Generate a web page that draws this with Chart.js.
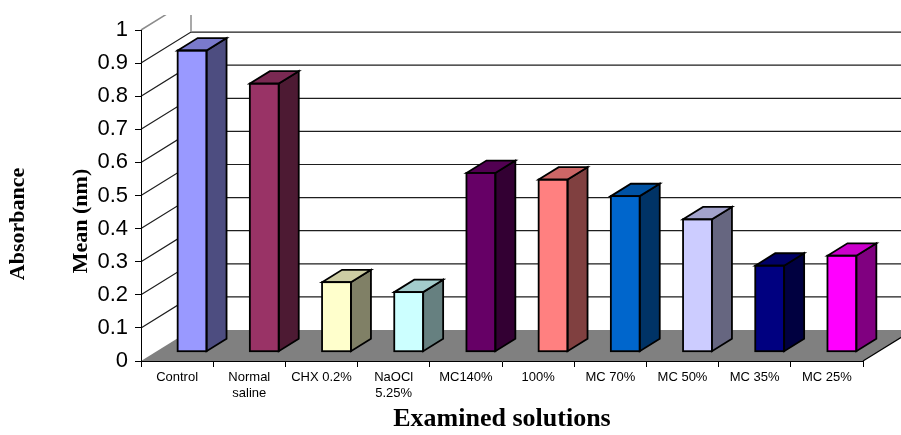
<!DOCTYPE html>
<html>
<head>
<meta charset="utf-8">
<style>
  html, body { margin: 0; padding: 0; background: #ffffff; }
  canvas { display: block; }
</style>
<script src="https://cdn.jsdelivr.net/npm/chart.js@4.4.1/dist/chart.umd.min.js"></script>
</head>
<body>
<canvas id="chart" width="901" height="435"></canvas>
<script>
// Categories (solutions) and their mean absorbance readings
const categories = [
  "Control", ["Normal", "saline"], "CHX 0.2%", ["NaOCl", "5.25%"], "MC140%",
  "100%", "MC 70%", "MC 50%", "MC 35%", "MC 25%"
];
const meanAbsorbance = [0.91, 0.81, 0.21, 0.18, 0.54, 0.52, 0.47, 0.40, 0.26, 0.29];

// Value axis range
const yMin = 0;
const yMax = 1;
const yStep = 0.1;

// Axis titles
const xTitle = "Examined solutions";
const yTitleOuter = "Absorbance";
const yTitleInner = "Mean (nm)";

// Front-face colours of each column
const frontColors = [
  "#9999FF", "#993366", "#FFFFCC", "#CCFFFF", "#660066",
  "#FF8080", "#0066CC", "#CCCCFF", "#000080", "#FF00FF"
];

// Oblique depth of the plot box (px) and where the columns sit inside it
const DEPTH = { x: 50, y: -31 };
const COL_FRONT = 0.3;   // front face of columns, as a fraction of depth
const COL_DEPTH = 0.4;   // thickness of columns, as a fraction of depth

function shade(hex, f) {
  const n = parseInt(hex.slice(1), 16);
  const r = Math.round(((n >> 16) & 255) * f);
  const g = Math.round(((n >> 8) & 255) * f);
  const b = Math.round((n & 255) * f);
  return `rgb(${r},${g},${b})`;
}

const serifFamily = "'Liberation Serif', 'Times New Roman', serif";
const serifBold = "bold 22px " + serifFamily;
const sans = "'Liberation Sans', Arial, sans-serif";

// Walls, floor and the extra faces of the columns
const box3d = {
  id: "box3d",
  beforeDraw(chart) {
    const { ctx, chartArea: a, scales: { y } } = chart;
    const dx = DEPTH.x, dy = DEPTH.y;
    ctx.save();
    ctx.fillStyle = "#ffffff";
    ctx.fillRect(0, 0, chart.width, chart.height);
    ctx.beginPath();
    ctx.rect(0, 15, chart.width, chart.height - 15);
    ctx.clip();

    const y0 = y.getPixelForValue(yMin);
    // floor
    ctx.fillStyle = "#808080";
    ctx.beginPath();
    ctx.moveTo(a.left, y0);
    ctx.lineTo(a.right, y0);
    ctx.lineTo(a.right + dx, y0 + dy);
    ctx.lineTo(a.left + dx, y0 + dy);
    ctx.closePath();
    ctx.fill();
    ctx.strokeStyle = "#000";
    ctx.lineWidth = 1.2;
    ctx.beginPath();
    ctx.moveTo(a.right, y0);
    ctx.lineTo(a.right + dx, y0 + dy);
    ctx.stroke();

    // gridlines on side wall and back wall
    const steps = Math.round((yMax - yMin) / yStep);
    for (let k = 1; k <= steps; k++) {
      const v = yMin + k * yStep;
      const py = y.getPixelForValue(v);
      ctx.strokeStyle = k === steps ? "#8c8c8c" : "#1e1e1e";
      ctx.lineWidth = k === steps ? 1.5 : 1.2;
      ctx.beginPath();
      ctx.moveTo(a.left, py);
      ctx.lineTo(a.left + dx, py + dy);
      ctx.lineTo(chart.width + 20, py + dy);
      ctx.stroke();
    }
    // back wall corner edge above the highest visible gridline
    const yTop = y.getPixelForValue(yMax) + dy;
    const yBelow = y.getPixelForValue(yMax - yStep) + dy;
    ctx.strokeStyle = "#8c8c8c";
    ctx.lineWidth = 1.5;
    ctx.beginPath();
    ctx.moveTo(a.left + dx, yTop);
    ctx.lineTo(a.left + dx, yBelow);
    ctx.stroke();
    ctx.restore();
  },
  beforeDatasetsDraw(chart) {
    const { ctx } = chart;
    ctx.save();
    ctx.translate(DEPTH.x * COL_FRONT, DEPTH.y * COL_FRONT);
  },
  afterDatasetsDraw(chart) {
    const { ctx } = chart;
    const meta = chart.getDatasetMeta(0);
    const ddx = DEPTH.x * COL_DEPTH, ddy = DEPTH.y * COL_DEPTH;
    ctx.lineWidth = 1.8;
    ctx.strokeStyle = "#000";
    ctx.lineJoin = "miter";
    meta.data.forEach((el, i) => {
      const { x, y, base, width } = el.getProps(["x", "y", "base", "width"], true);
      const l = x - width / 2, r = x + width / 2;
      const c = frontColors[i];
      // right side face
      ctx.fillStyle = shade(c, 0.5);
      ctx.beginPath();
      ctx.moveTo(r, y);
      ctx.lineTo(r + ddx, y + ddy);
      ctx.lineTo(r + ddx, base + ddy);
      ctx.lineTo(r, base);
      ctx.closePath();
      ctx.fill();
      ctx.stroke();
      // top face
      ctx.fillStyle = shade(c, 0.8);
      ctx.beginPath();
      ctx.moveTo(l, y);
      ctx.lineTo(l + ddx, y + ddy);
      ctx.lineTo(r + ddx, y + ddy);
      ctx.lineTo(r, y);
      ctx.closePath();
      ctx.fill();
      ctx.stroke();
      // front face outline
      ctx.strokeRect(l, y, width, base - y);
    });
    ctx.restore();
  },
  afterDraw(chart) {
    const { ctx } = chart;
    ctx.save();
    ctx.fillStyle = "#000";
    ctx.font = serifBold;
    ctx.textAlign = "center";
    ctx.textBaseline = "middle";
    ctx.translate(18, 224);
    ctx.rotate(-Math.PI / 2);
    ctx.fillText(yTitleOuter, 0, 0);
    ctx.restore();
    ctx.save();
    ctx.fillStyle = "#000";
    ctx.font = serifBold;
    ctx.textAlign = "center";
    ctx.textBaseline = "middle";
    ctx.translate(81, 221);
    ctx.rotate(-Math.PI / 2);
    ctx.fillText(yTitleInner, 0, 0);
    ctx.restore();
  }
};

new Chart(document.getElementById("chart"), {
  type: "bar",
  data: {
    labels: categories,
    datasets: [{
      data: meanAbsorbance,
      backgroundColor: frontColors,
      borderColor: "#000",
      borderWidth: 0,
      borderSkipped: false,
      categoryPercentage: 1,
      barPercentage: 0.4,
      clip: false
    }]
  },
  options: {
    responsive: false,
    animation: false,
    events: [],
    devicePixelRatio: 1,
    layout: { padding: { top: 30, right: 38, left: 0, bottom: 0 } },
    plugins: { legend: { display: false }, tooltip: { enabled: false } },
    scales: {
      x: {
        grid: { offset: true, drawOnChartArea: false, drawTicks: true, tickLength: 6, color: "#000" },
        border: { display: true, color: "#000", width: 1 },
        ticks: { color: "#000", font: { family: sans, size: 13 }, padding: 3, maxRotation: 0, autoSkip: false },
        title: {
          display: true, text: xTitle, color: "#000",
          font: { family: serifFamily, size: 26, weight: "bold", lineHeight: 1.2 },
          padding: { top: 0, bottom: 0 }
        },
        afterFit(scale) { scale.height = 74; }
      },
      y: {
        min: yMin, max: yMax,
        grid: { drawOnChartArea: false, drawTicks: true, tickLength: 6, color: "#000" },
        border: { display: true, color: "#000", width: 1 },
        ticks: {
          stepSize: yStep, color: "#000", padding: 7,
          font: { family: sans, size: 22 },
          callback: v => String(+(+v).toFixed(1))
        },
        afterFit(scale) { scale.width = 141; }
      }
    }
  },
  plugins: [box3d]
});
</script>
</body>
</html>
